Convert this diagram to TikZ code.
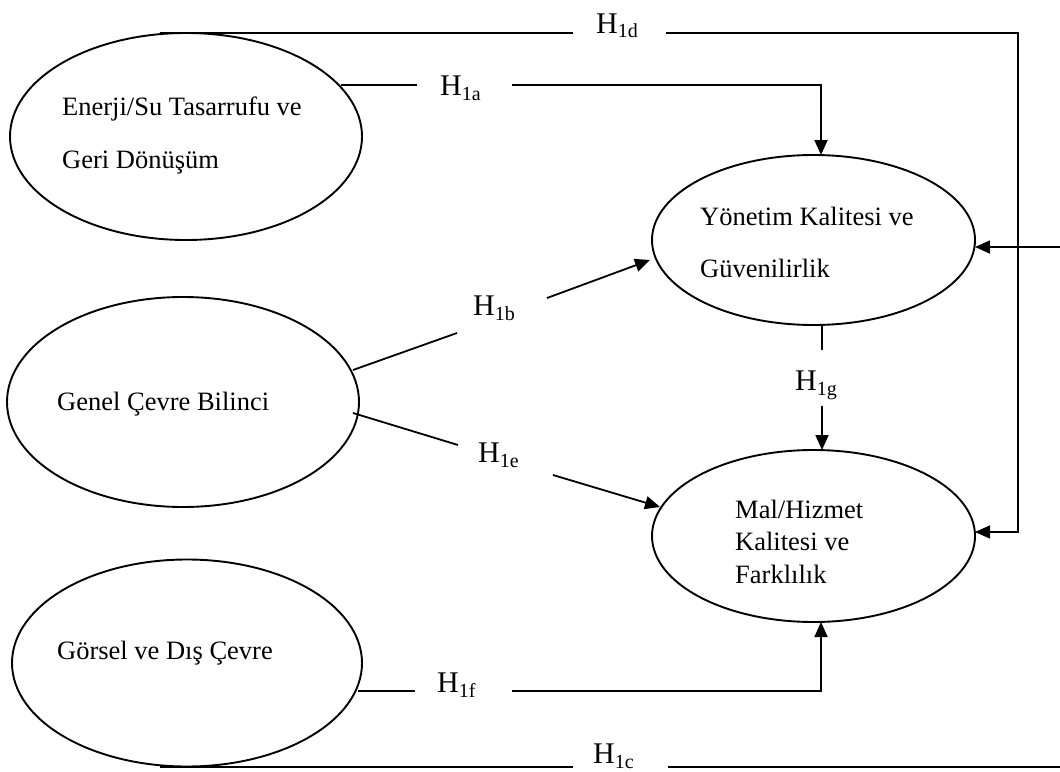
\documentclass[tikz,border=0pt]{standalone}
\usepackage{fontspec}
\setmainfont{Liberation Serif}
\usetikzlibrary{shapes.geometric,arrows.meta}
% hypothesis label: H with a lowered, smaller index
\newcommand\hyplabel[1]{H{\fontsize{20}{20}\selectfont\raisebox{-5pt}{#1}}}
\begin{document}
\begin{tikzpicture}[x=1pt,y=-1pt,
  construct/.style={ellipse,draw,line width=1.9pt,inner sep=0pt,outer sep=0pt},
  body/.style={anchor=base west,inner sep=0pt,font=\fontsize{26.5}{30}\selectfont},
  hyp/.style={anchor=base west,inner sep=0pt,font=\fontsize{30}{32}\selectfont},
  link/.style={line width=1.8pt},
  thinlink/.style={line width=1.3pt},
  tip/.style={-{Triangle[length=15pt,width=13pt]}}]
\useasboundingbox (0,0) rectangle (1060,771);

% constructs
\node[construct,minimum width=352pt,minimum height=207pt] (ener) at (186,136.5) {};
\node[construct,minimum width=352pt,minimum height=210pt] (genel) at (183,402) {};
\node[construct,minimum width=350pt,minimum height=207pt] (gorsel) at (187,663) {};
\node[construct,minimum width=323pt,minimum height=170pt] (yon) at (813.5,240) {};
\node[construct,minimum width=323pt,minimum height=172pt] (mal) at (813.5,536) {};

% construct names
\node[body] (ener1) at (62,115) {Enerji/Su Tasarrufu ve};
\node[body] (ener2) at (62,168) {Geri Dönüşüm};
\node[body] (genel1) at (57,410) {Genel Çevre Bilinci};
\node[body] (gorsel1) at (57,659) {Görsel ve Dış Çevre};
\node[body] (yon1) at (700,225) {Yönetim Kalitesi ve};
\node[body] (yon2) at (700,277) {Güvenilirlik};
\node[body] (mal1) at (735,518) {Mal/Hizmet};
\node[body] (mal2) at (735,550) {Kalitesi ve};
\node[body] (mal3) at (735,583) {Farklılık};

% hypothesis labels
\node[hyp] (hd) at (596,33) {\hyplabel{1d}};
\node[hyp] (ha) at (440,95) {\hyplabel{1a}};
\node[hyp] (hb) at (473,315) {\hyplabel{1b}};
\node[hyp] (hg) at (795,390) {\hyplabel{1g}};
\node[hyp] (he) at (478,462) {\hyplabel{1e}};
\node[hyp] (hf) at (437,692) {\hyplabel{1f}};
\node[hyp] (hc) at (593,763) {\hyplabel{1c}};

% H1d: over the top and down the right side
\coordinate (d0) at (160,33);
\coordinate (d1) at (573,33);
\coordinate (d2) at (666,33);
\coordinate (d3) at (1018,33);
\coordinate (d4) at (1018,532);
\draw[thinlink] (d0) -- (d1);
\draw[thinlink,tip] (d2) -- (d3) -- (d4) -- (975,532);

% H1a
\coordinate (a0) at (341,85);
\coordinate (a1) at (417,85);
\coordinate (a2) at (512,85);
\coordinate (a3) at (821,85);
\draw[link] (a0) -- (a1);
\draw[link,tip] (a2) -- (a3) -- (a3 |- yon.north);

% incoming from the right edge
\coordinate (r0) at (1060,247);
\draw[link,tip] (r0) -- (975,247);

% H1b
\coordinate (b0) at (353,370);
\coordinate (b1) at (457,333);
\coordinate (b2) at (547,298);
\draw[link] (b0) -- (b1);
\draw[link,tip] (b2) -- (650,260);

% H1e
\coordinate (e0) at (353,413);
\coordinate (e1) at (458,445);
\coordinate (e2) at (553,475);
\draw[link] (e0) -- (e1);
\draw[link,tip] (e2) -- (660,507);

% H1g
\coordinate (g0) at (822,350);
\coordinate (g1) at (822,406);
\draw[link] (g0 |- yon.south) -- (g0);
\draw[link,tip] (g1) -- (g1 |- mal.north);

% H1f
\coordinate (f0) at (358,691);
\coordinate (f1) at (415,691);
\coordinate (f2) at (512,691);
\coordinate (f3) at (821,691);
\draw[link] (f0) -- (f1);
\draw[link,tip] (f2) -- (f3) -- (f3 |- mal.south);

% H1c along the bottom
\coordinate (c0) at (160,767);
\coordinate (c1) at (573,767);
\coordinate (c2) at (668,767);
\coordinate (c3) at (1060,767);
\draw[link] (c0) -- (c1);
\draw[link] (c2) -- (c3);
\end{tikzpicture}
\end{document}
